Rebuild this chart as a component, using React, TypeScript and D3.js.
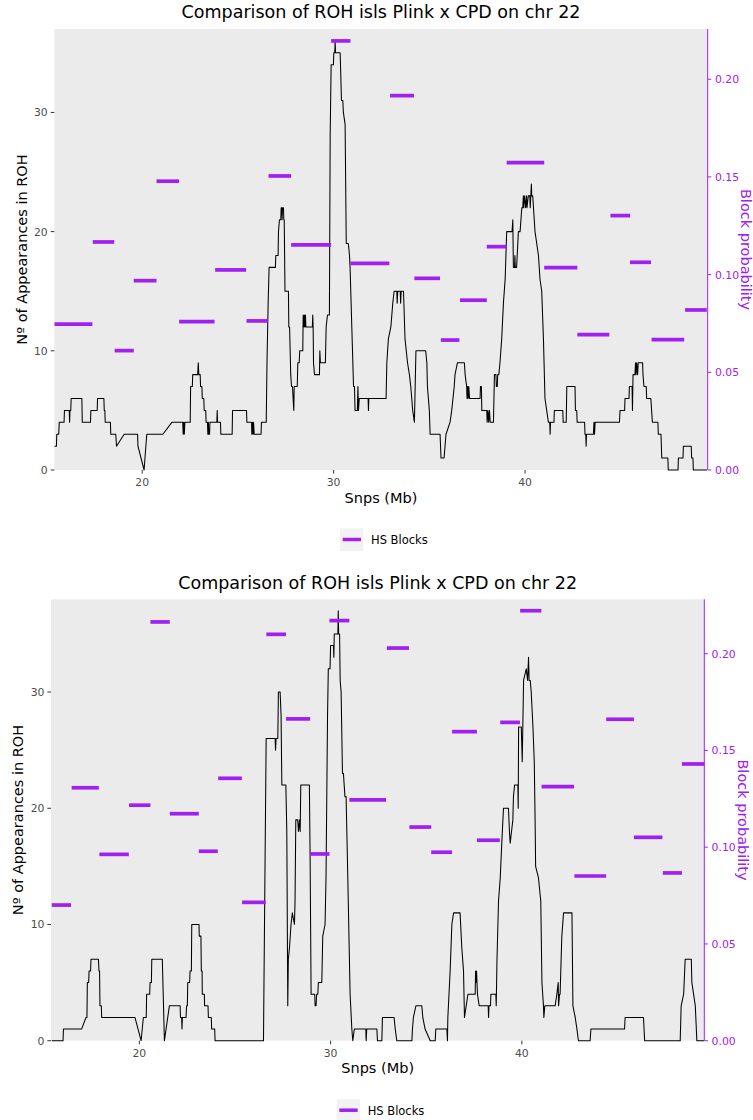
import React from "react";
import * as d3 from "d3";

const TITLE = "Comparison of ROH isls Plink x CPD on chr 22";
const X_TICKS = [20, 30, 40];
const Y_TICKS = [0, 10, 20, 30];
const P_TICKS = [0, 0.05, 0.1, 0.15, 0.2];

// Top panel: ROH count line (Mb, count)
const TOP_LINE: [number, number][] = [
  [15.42,2],[15.52,2],[15.54,3],[15.64,3],[15.67,4],[15.92,4],[15.94,5],[16.19,5],[16.21,4],[16.23,5],[16.27,5],[16.29,6],
  [16.85,6],[16.87,4],[17.30,4],[17.32,5],[17.65,5],[17.67,6],[18.00,6],[18.02,5],[18.05,5],[18.07,4],[18.34,4],[18.36,3],
  [18.62,3],[18.66,2],[19.06,3],[19.76,3],[19.78,2],[20.10,0],[20.24,3],[21.08,3],[21.55,4],[22.12,4],[22.14,3],[22.17,4],
  [22.20,3],[22.23,4],[22.51,4],[22.53,7],[22.62,7],[22.64,8],[22.90,8],[22.93,9],[22.96,8],[23.03,8],[23.05,7],[23.12,7],
  [23.14,6],[23.22,6],[23.24,5],[23.32,5],[23.34,4],[23.41,4],[23.43,3],[23.46,4],[23.48,3],[23.52,3],[23.54,4],[23.90,4],
  [23.92,5],[23.94,4],[24.09,4],[24.11,3],[24.70,3],[24.72,5],[25.45,5],
  [25.47,4],[25.71,4],[25.73,3],[25.76,4],[25.79,3],[25.82,4],[25.85,3],[26.21,3],[26.23,4],[26.48,4],[26.52,9],[26.58,14],
  [26.63,17],[26.96,17],[26.98,18],[27.10,18],[27.12,20],[27.17,21],[27.24,21],[27.26,22],[27.30,22],[27.31,21],[27.33,22],
  [27.38,22],[27.40,21],[27.42,21],[27.46,15],[27.64,15],[27.66,12],[27.70,12],[27.76,8],[27.80,7],[27.85,7],[27.92,5],
  [27.94,7],[28.10,7],[28.13,9],[28.20,9],[28.23,10],[28.39,10],[28.41,13],[28.44,12],[28.47,13],[28.50,12],[28.53,13],
  [28.55,12],[28.89,12],[28.91,13],[28.93,12],[28.95,9],[29.00,8],[29.26,8],[29.28,10],[29.31,9],[29.57,9],[29.61,12],
  [29.68,13],[29.78,13],[29.82,28],[29.87,34],[29.99,34],[30.01,35],[30.06,35],[30.08,36],[30.10,35],[30.34,35],[30.36,34],
  [30.41,31],[30.48,31],[30.51,30],[30.60,29],[30.66,19],[30.77,19],[30.83,18],[30.86,17],[30.95,12],[31.04,7],[31.09,7],
  [31.12,5],[31.24,5],[31.27,7],[31.30,5],[31.34,6],[31.80,6],[31.82,5],[31.84,6],[32.74,6],[32.78,9],[32.86,11],[32.99,12],
  [33.09,14],[33.16,15],[33.30,15],[33.32,14],[33.35,15],[33.48,15],[33.50,14],[33.53,15],[33.65,15],[33.73,11],[33.86,9],
  [33.96,8],[34.03,7],[34.13,5],[34.22,4],[34.30,10],[34.81,10],[34.87,9],[34.90,7],[35.00,5],[35.04,3],[35.56,3],[35.61,1],
  [35.77,1],[35.87,3],[36.08,4],[36.17,5],[36.30,7],[36.34,8],[36.47,9],[36.83,9],[36.87,8],[36.95,7],[36.97,6],[37.00,7],
  [37.03,6],[37.06,7],[37.10,6],[37.65,6],[37.67,7],[37.72,7],[37.74,5],[38.00,5],[38.02,4],[38.06,5],[38.10,4],[38.14,5],
  [38.18,4],[38.35,4],[38.40,8],[38.48,8],[38.50,7],[38.55,7],[38.57,8],[38.63,8],[38.69,9],[38.78,11],[38.87,14],[38.96,16],
  [39.04,20],[39.32,20],[39.36,21],[39.39,17],[39.45,17],[39.47,18],[39.49,17],[39.56,17],[39.65,20],[39.74,20],[39.83,22],
  [39.88,22],[39.91,23],[39.93,22],[39.98,23],[40.03,22],[40.08,23],[40.10,22],[40.17,23],[40.25,23],[40.27,22],[40.30,23],
  [40.33,24],[40.35,23],[40.40,23],[40.44,22],[40.52,20],[40.70,18],[40.78,16],[40.87,15],[40.96,11],[41.04,6],[41.13,5],
  [41.22,4],[41.29,4],[41.31,3],[41.33,4],[41.51,4],[41.53,5],[41.97,5],[41.99,4],[42.15,4],[42.18,7],[42.61,7],[42.63,5],
  [42.70,5],[42.72,4],[43.11,4],[43.13,3],[43.17,3],[43.19,2],[43.21,3],[43.57,3],[43.60,4],[43.63,3],[43.66,4],[44.93,4],[44.96,5],
  [45.20,5],[45.22,6],[45.43,6],[45.45,7],[45.59,7],[45.61,5],[45.64,8],[45.74,8],[45.77,9],[45.80,8],[45.83,9],[45.88,8],
  [45.91,9],[46.14,9],[46.16,8],[46.21,7],[46.33,7],[46.35,6],[46.57,6],[46.61,5],[46.65,4],[46.94,4],[46.96,3],[47.10,3],
  [47.14,1],[47.46,1],[47.48,0],[47.99,0],[48.01,1],[48.25,1],[48.27,2],[48.68,2],[48.70,1],[48.77,1],[48.79,0],[49.50,0],
];

const TOP_BLOCK_START = [15.42,17.42,18.56,19.56,20.75,21.93,23.81,25.45,26.60,27.78,29.87,30.88,32.95,34.22,35.60,36.60,38.00,39.04,41.00,42.73,44.46,45.48,46.61,48.36];
const TOP_BLOCK_END   = [17.40,18.54,19.56,20.75,21.93,23.78,25.43,26.56,27.78,29.87,30.88,32.91,34.20,35.56,36.57,38.00,39.04,41.00,42.73,44.40,45.49,46.58,48.31,49.49];
const TOP_BLOCK_PROB  = [0.0747,0.1167,0.0611,0.0969,0.1478,0.0759,0.1024,0.0763,0.1505,0.1152,0.2196,0.1058,0.1916,0.0981,0.0665,0.0869,0.1143,0.1573,0.1036,0.0693,0.1302,0.1063,0.0667,0.0819];

// Bottom panel
const BOTTOM_LINE: [number, number][] = [
  [15.42,0],[16.01,0],[16.03,1],[16.98,1],[17.21,2],[17.26,2],[17.28,5],[17.35,5],[17.37,6],[17.45,6],[17.47,7],[17.86,7],
  [17.89,6],[17.92,6],[17.94,3],[18.01,3],[18.03,2],
  [19.77,2],[20.09,0],[20.21,2],[20.36,2],[20.38,4],[20.54,4],[20.56,5],[20.63,5],[20.65,7],[21.20,7],[21.31,0],[21.57,3],
  [22.13,3],[22.15,2],[22.21,2],[22.23,1],[22.25,2],[22.44,2],[22.47,3],[22.51,3],[22.53,5],[22.63,5],[22.65,6],[22.72,6],
  [22.74,10],[23.12,10],[23.13,9],[23.22,9],[23.24,6],[23.28,6],[23.29,4],[23.40,4],[23.41,3],[23.59,3],[23.61,2],[23.76,2],
  [23.78,1],[23.94,1],[23.96,0],[26.49,0],[26.63,26],[27.10,26],[27.12,25],[27.15,26],
  [27.24,26],[27.27,30],[27.36,30],[27.41,28],[27.45,22],[27.66,22],[27.71,18],[27.76,3],[27.79,7],[27.85,8],[27.93,10],
  [28.00,11],[28.11,10],[28.14,12],[28.18,19],[28.28,19],[28.32,18],[28.37,19],[28.41,18],[28.44,22],[28.89,22],
  [28.93,15.5],[28.98,4],[29.17,4],[29.19,3],[29.24,3],[29.27,4],[29.33,4],[29.36,5],[29.54,5],[29.59,9],[29.71,10],
  [29.76,14],[29.84,28],[29.88,32],[29.97,32],[30.00,34],[30.15,34],[30.17,33],[30.19,35],[30.38,35],[30.40,37],[30.42,35],
  [30.47,35],[30.50,31],[30.55,30],[30.62,23],[30.67,23],[30.75,21],[30.81,21],[30.90,14],[31.02,4],[31.11,1],[31.16,0],
  [31.24,1],[31.84,1],[31.86,0],[31.89,1],[32.42,1],[32.45,0],[32.68,0],[32.71,2],[33.32,2],[33.38,1],[33.46,0],[34.25,0],
  [34.28,1],[34.33,2],[34.46,3],[34.77,3],[34.82,2],[34.94,1],[35.21,0],[35.47,0],[35.50,1],[36.08,1],[36.11,0],[36.13,2],
  [36.25,6],[36.34,10],[36.43,11],[36.77,11],[36.86,8],[36.95,6],[37.00,2],[37.09,3],[37.18,4],[37.56,4],[37.58,6],
  [37.60,5],[37.63,6],[37.68,4],[37.77,3],[38.24,3],[38.26,2],[38.28,3],[38.36,3],[38.38,4],[38.64,4],[38.66,3],[38.70,7],
  [38.78,12],[38.87,14],[38.95,17],[39.04,20],[39.30,20],[39.35,18],[39.39,17],[39.46,18],[39.53,19],[39.56,21],[39.62,22],
  [39.79,22],[39.81,20],[39.83,27],[39.97,27],[40.02,24],[40.09,31],[40.23,32],[40.30,31],[40.35,33],[40.38,31],[40.44,31],
  [40.49,30],[40.58,27],[40.65,24],[40.70,18],[40.72,15],[40.87,14],[40.99,12],[41.05,5],[41.13,3],[41.15,2],[41.20,3],
  [41.74,3],[41.83,4],[41.90,5],[41.92,3],[41.97,4],[42.00,4],[42.09,9],[42.18,11],[42.62,11],[42.67,3],[42.79,2],[42.88,1],
  [42.96,0],[43.57,0],[43.61,1],[45.37,1],[45.40,2],[46.36,2],[46.42,0],[48.28,0],[48.33,3],[48.46,4],[48.54,7],[48.86,7],
  [48.89,5],[49.07,3],[49.15,0],[49.53,0],
];

const BOTTOM_BLOCK_START = [15.42,16.46,17.91,19.46,20.58,21.59,23.11,24.12,25.37,26.64,27.67,28.93,29.94,30.98,32.94,34.12,35.26,36.35,37.65,38.87,39.91,41.03,42.75,44.41,45.86,47.37,48.37];
const BOTTOM_BLOCK_END   = [16.43,17.88,19.45,20.58,21.59,23.11,24.10,25.36,26.61,27.67,28.93,29.94,30.98,32.90,34.10,35.26,36.35,37.65,38.85,39.90,41.02,42.73,44.41,45.86,47.35,48.37,49.55];
const BOTTOM_BLOCK_PROB  = [0.0701,0.1307,0.0963,0.1217,0.2164,0.1173,0.0979,0.1356,0.0715,0.2100,0.1663,0.0965,0.2171,0.1244,0.2029,0.1104,0.0974,0.1597,0.1036,0.1645,0.2222,0.1313,0.0851,0.1661,0.1051,0.0867,0.1430];

const PURPLE = "#A020F0";
const FONT = "DejaVu Sans, Verdana, sans-serif";

type PanelProps = {
  left: number;
  right: number;
  top: number;
  bottom: number;
  xDomain: [number, number];
  yMax: number;
  pMax: number;
  line: [number, number][];
  bs: number[];
  be: number[];
  bp: number[];
};

function Panel(props: PanelProps) {
  const { left, right, top, bottom, xDomain, yMax, pMax, line, bs, be, bp } = props;
  const x = d3.scaleLinear().domain(xDomain).range([left, right]);
  const y = d3.scaleLinear().domain([0, yMax]).range([bottom, top]);
  const p = d3.scaleLinear().domain([0, pMax]).range([bottom, top]);
  const path = d3.line<[number, number]>().x((d) => x(d[0])).y((d) => y(d[1]))(line) || "";
  const cx = (left + right) / 2;
  const cy = (top + bottom) / 2;
  return (
    <g>
      <text x={cx} y={top - 10.7} textAnchor="middle" fontFamily={FONT} fontSize={17.5} fill="#000">
        {TITLE}
      </text>
      <rect x={left} y={top} width={right - left} height={bottom - top} fill="#EBEBEB" />
      <path d={path} fill="none" stroke="#000" strokeWidth={1.05} strokeLinejoin="round" />
      {bs.map((s, i) => (
        <line key={i} x1={x(s)} x2={x(be[i])} y1={p(bp[i])} y2={p(bp[i])} stroke={PURPLE} strokeWidth={3.7} />
      ))}
      {/* left axis */}
      {Y_TICKS.map((t) => (
        <g key={"y" + t}>
          <line x1={left - 3.6} x2={left} y1={y(t)} y2={y(t)} stroke="#333" strokeWidth={1} />
          <text x={left - 6.6} y={y(t) + 3.9} textAnchor="end" fontFamily={FONT} fontSize={10.8} fill="#4D4D4D">
            {t}
          </text>
        </g>
      ))}
      {/* bottom axis */}
      {X_TICKS.map((t) => (
        <g key={"x" + t}>
          <line x1={x(t)} x2={x(t)} y1={bottom} y2={bottom + 3.6} stroke="#333" strokeWidth={1} />
          <text x={x(t)} y={bottom + 15.8} textAnchor="middle" fontFamily={FONT} fontSize={10.8} fill="#4D4D4D">
            {t}
          </text>
        </g>
      ))}
      {/* right axis */}
      <line x1={right} x2={right} y1={top} y2={bottom} stroke={PURPLE} strokeWidth={1} />
      {P_TICKS.map((t) => (
        <g key={"p" + t}>
          <line x1={right} x2={right + 3.6} y1={p(t)} y2={p(t)} stroke={PURPLE} strokeWidth={1} />
          <text x={right + 7.3} y={p(t) + 3.9} textAnchor="start" fontFamily={FONT} fontSize={10.8} fill={PURPLE}>
            {t.toFixed(2)}
          </text>
        </g>
      ))}
      {/* axis titles */}
      <text x={cx} y={bottom + 32.5} textAnchor="middle" fontFamily={FONT} fontSize={14.5} fill="#000">
        Snps (Mb)
      </text>
      <text transform={`translate(${left - 27.6},${cy}) rotate(-90)`} textAnchor="middle" fontFamily={FONT} fontSize={14.5} fill="#000">
        Nº of Appearances in ROH
      </text>
      <text transform={`translate(${right + 33.2},${cy}) rotate(90)`} textAnchor="middle" fontFamily={FONT} fontSize={14.5} fill={PURPLE}>
        Block probability
      </text>
      {/* legend */}
      <rect x={cx - 41} y={bottom + 58.3} width={23.3} height={22.7} fill="#F2F2F2" />
      <line x1={cx - 38.3} x2={cx - 20} y1={bottom + 69.5} y2={bottom + 69.5} stroke={PURPLE} strokeWidth={3.5} />
      <text x={cx - 10} y={bottom + 74} fontFamily={FONT} fontSize={11.5} fill="#000">
        HS Blocks
      </text>
    </g>
  );
}

export default function App() {
  return (
    <svg width={753} height={1120} style={{ position: "absolute", left: 0, top: 0, background: "#fff" }}>
      <rect x={0} y={0} width={753} height={1120} fill="#fff" />
      <Panel
        left={54.3}
        right={707.7}
        top={29}
        bottom={470}
        xDomain={[15.41, 49.54]}
        yMax={37.0}
        pMax={0.2257}
        line={TOP_LINE}
        bs={TOP_BLOCK_START}
        be={TOP_BLOCK_END}
        bp={TOP_BLOCK_PROB}
      />
      <Panel
        left={51}
        right={704.3}
        top={599.3}
        bottom={1040.7}
        xDomain={[15.38, 49.54]}
        yMax={37.98}
        pMax={0.2281}
        line={BOTTOM_LINE}
        bs={BOTTOM_BLOCK_START}
        be={BOTTOM_BLOCK_END}
        bp={BOTTOM_BLOCK_PROB}
      />
    </svg>
  );
}
